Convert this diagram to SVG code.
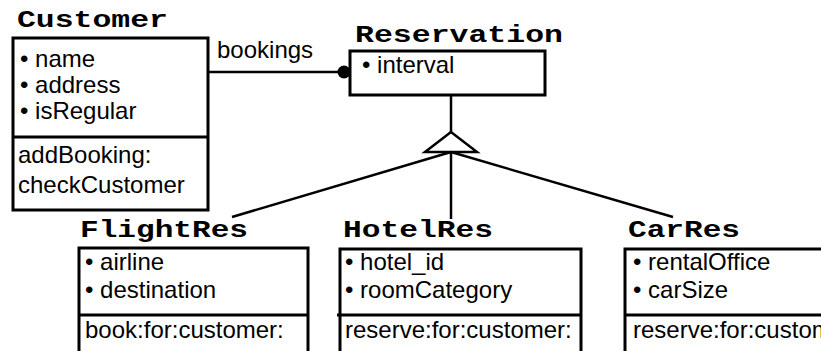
<svg xmlns="http://www.w3.org/2000/svg" width="821" height="351" viewBox="0 0 821 351">
  <style>
    .box { fill: #fff; stroke: #000; stroke-width: 3; }
    .div { stroke: #000; stroke-width: 3; fill: none; }
    .title { font-family: "Liberation Mono", "Courier New", monospace; font-weight: bold; font-size: 23px; fill: #000; }
    .txt { font-family: "Liberation Sans", Arial, sans-serif; font-size: 24px; fill: #000; }
    .link { stroke: #000; stroke-width: 2.5; fill: none; }
  </style>
  <rect width="821" height="351" fill="#fff"/>

  <g id="connectors">
    <!-- association Customer -> Reservation -->
    <line class="link" x1="208" y1="72" x2="344" y2="72" stroke-width="3"/>
    <circle cx="344" cy="72" r="6.5" fill="#000"/>
    <text class="txt" x="217" y="58">bookings</text>
    <!-- generalisation -->
    <line class="link" x1="451" y1="96" x2="451" y2="132"/>
    <polygon points="451,132 425,152 477,152" fill="#fff" stroke="#000" stroke-width="2.5"/>
    <line class="link" x1="451" y1="152" x2="232" y2="217"/>
    <line class="link" x1="451" y1="152" x2="451" y2="219"/>
    <line class="link" x1="451" y1="152" x2="673" y2="217"/>
  </g>

  <g id="customer">
    <text class="title" x="17" y="27" textLength="151" lengthAdjust="spacingAndGlyphs">Customer</text>
    <rect class="box" x="13" y="38" width="195" height="172"/>
    <line class="div" x1="13" y1="137" x2="208" y2="137"/>
    <text class="txt" x="20" y="67">• name</text>
    <text class="txt" x="20" y="93">• address</text>
    <text class="txt" x="20" y="119">• isRegular</text>
    <text class="txt" x="18" y="163">addBooking:</text>
    <text class="txt" x="18" y="193">checkCustomer</text>
  </g>

  <g id="reservation">
    <text class="title" x="355" y="42" textLength="208" lengthAdjust="spacingAndGlyphs">Reservation</text>
    <rect class="box" x="350" y="51" width="195" height="44"/>
    <text class="txt" x="362" y="73">• interval</text>
  </g>

  <g id="flightres">
    <text class="title" x="80" y="237" textLength="168" lengthAdjust="spacingAndGlyphs">FlightRes</text>
    <rect class="box" x="79" y="248" width="229" height="106"/>
    <line class="div" x1="79" y1="315" x2="308" y2="315"/>
    <text class="txt" x="85" y="270">• airline</text>
    <text class="txt" x="85" y="298">• destination</text>
    <text class="txt" x="85" y="338">book:for:customer:</text>
  </g>

  <g id="hotelres">
    <text class="title" x="343" y="237" textLength="150" lengthAdjust="spacingAndGlyphs">HotelRes</text>
    <rect class="box" x="340" y="249" width="241" height="105"/>
    <line class="div" x1="337" y1="315" x2="581" y2="315"/>
    <text class="txt" x="345" y="270">• hotel_id</text>
    <text class="txt" x="345" y="298">• roomCategory</text>
    <text class="txt" x="345" y="338">reserve:for:customer:</text>
  </g>

  <g id="carres">
    <text class="title" x="628" y="237" textLength="112" lengthAdjust="spacingAndGlyphs">CarRes</text>
    <rect class="box" x="625" y="249" width="240" height="105"/>
    <line class="div" x1="625" y1="315" x2="865" y2="315"/>
    <text class="txt" x="633" y="270">• rentalOffice</text>
    <text class="txt" x="633" y="298">• carSize</text>
    <text class="txt" x="633" y="338">reserve:for:customer:</text>
  </g>
</svg>
